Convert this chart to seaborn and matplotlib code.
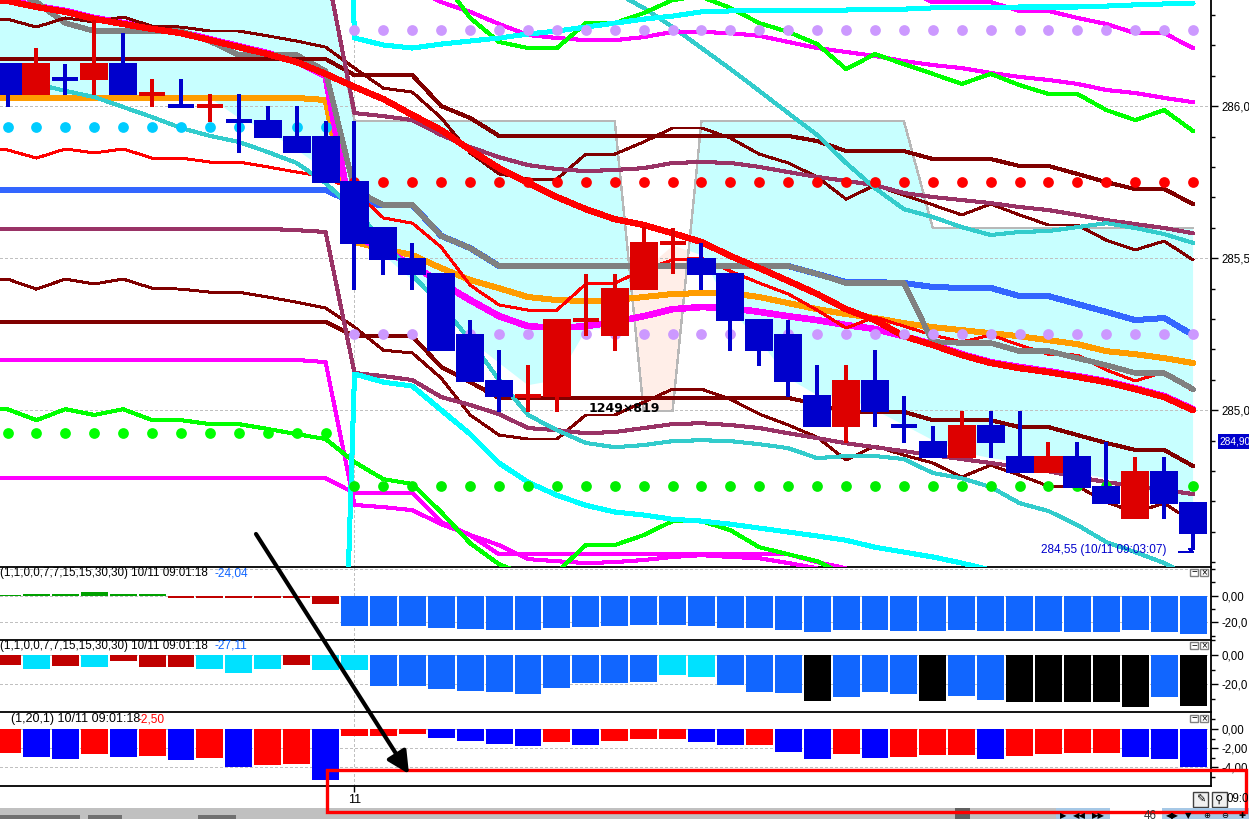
import numpy as np
import pandas as pd
import matplotlib
matplotlib.use("Agg")
import matplotlib.pyplot as plt
from matplotlib.patches import Rectangle
import seaborn as sns

nan = float("nan")

# candles
candle_up = [0,1,0,1,0,1,0,1,0,0,0,0,0,0,0,0,0,0,1,1,1,1,1,1,0,0,0,0,0,1,0,0,0,1,0,0,1,0,0,1,0,0]
opens = [286.141,286.036,286.089,286.086,286.141,286.039,286.0,286.0,285.951,285.954,285.901,285.901,285.753,285.602,285.5,285.451,285.25,285.099,285.046,285.043,285.296,285.243,285.395,285.549,285.5,285.451,285.299,285.25,285.049,284.944,285.099,284.947,284.898,284.842,284.951,284.849,284.793,284.849,284.75,284.641,284.799,284.697]
closes = [286.036,286.141,286.089,286.141,286.036,286.039,286.0,286.0,285.951,285.895,285.845,285.747,285.546,285.493,285.444,285.194,285.092,285.043,285.046,285.299,285.296,285.401,285.553,285.549,285.444,285.293,285.194,285.092,284.944,285.099,284.993,284.947,284.842,284.951,284.891,284.793,284.849,284.743,284.691,284.799,284.691,284.592]
highs = [286.141,286.191,286.138,286.283,286.240,286.089,286.089,286.039,286.039,286.0,286.0,285.951,285.951,285.602,285.549,285.451,285.296,285.197,285.148,285.299,285.447,285.447,285.602,285.599,285.549,285.451,285.299,285.296,285.148,285.148,285.197,285.046,284.947,284.997,284.997,284.997,284.895,284.895,284.895,284.845,284.845,284.697]
lows = [285.997,286.036,286.036,286.036,286.036,285.997,286.0,285.947,285.845,285.895,285.845,285.747,285.395,285.444,285.395,285.194,285.092,284.993,284.993,284.993,285.243,285.194,285.395,285.447,285.395,285.194,285.145,285.043,284.944,284.891,284.944,284.891,284.842,284.842,284.842,284.793,284.793,284.743,284.691,284.641,284.641,284.539]

# ichimoku cloud spans
cloud_top = [286.6]*11 + [286.474] + [285.951]*10 + [284.997]*2 + [285.951]*8 + [285.599]*10
cloud_bottom = [286.027]*8 + [285.961,285.918,285.856,285.790,285.707,285.510,285.428,285.346,285.230,285.155,285.082,285.099,285.263,285.270,285.461,285.543,285.510,285.329,285.230,285.105,285.049,285.043,285.000,284.951,284.901,284.862,284.842,284.829,284.809,284.793,284.776,284.744,284.720,284.671]

# overlay lines
red_ma = [286.346,286.326,286.310,286.287,286.270,286.254,286.240,286.217,286.194,286.171,286.145,286.106,286.063,286.023,285.971,285.921,285.856,285.796,285.747,285.701,285.661,285.628,285.609,285.582,285.553,285.507,285.467,285.425,285.382,285.332,285.296,285.243,285.214,285.181,285.155,285.138,285.125,285.109,285.092,285.069,285.043,285.000]
magenta_ma = [286.349,286.329,286.313,286.290,286.273,286.257,286.243,286.220,286.197,286.174,286.148,286.099,285.576,285.527,285.477,285.418,285.362,285.309,285.276,285.270,285.276,285.290,285.309,285.332,285.339,285.336,285.323,285.309,285.296,285.280,285.267,285.243,285.217,285.184,285.158,285.142,285.128,285.112,285.095,285.072,285.046,285.003]
orange_ma = [286.027]*11 + [286.020,285.553,285.530,285.510,285.467,285.428,285.401,285.372,285.362,285.359,285.362,285.372,285.382,285.385,285.385,285.372,285.352,285.332,285.316,285.303,285.286,285.273,285.263,285.253,285.243,285.230,285.217,285.194,285.184,285.171,285.155]
gray_line = [286.382,286.342,286.273] + [286.247]*4 + [286.214] + [286.168]*3 + [286.115,285.724,285.675,285.675,285.573,285.533] + [285.474]*11 + [285.448] + [285.418]*3 + [285.224,285.221,285.221,285.194,285.194,285.171,285.148,285.122,285.122,285.069]
blue_line = [285.724]*12 + [285.681,285.675,285.675,285.573,285.533] + [285.474]*11 + [285.448,285.421,285.421,285.418,285.405,285.402,285.402,285.375,285.375,285.349,285.323,285.296,285.303,285.247]
thin_red = [285.856,285.829,285.859,285.846,285.859,285.829,285.829,285.816,285.816,285.800,285.783,285.767,285.721,285.632,285.615,285.536,285.411,285.346,285.329,285.329,285.415,285.418,285.461,285.494,285.500,285.457,285.418,285.382,285.329,285.270,285.306,285.276,285.247,285.224,285.247,285.214,285.184,285.181,285.132,285.096,285.125,285.063]
upper_kijun = [286.155]*12 + [286.102]*3 + [286.000,285.961] + [285.902]*11 + [285.885] + [285.852]*3 + [285.826]*3 + [285.803]*2 + [285.777,285.750,285.727,285.727,285.678]
upper_thin = [286.286,286.260,286.290,286.277,286.293,286.263,286.260,286.247,286.247,286.231,286.214,286.194,286.125,286.059,286.046,285.961,285.846,285.777,285.760,285.760,285.842,285.842,285.882,285.928,285.928,285.895,285.842,285.813,285.767,285.694,285.740,285.707,285.675,285.642,285.678,285.642,285.609,285.609,285.559,285.527,285.556,285.494]
purple_upper = [nan]*11 + [286.467,285.977,285.967,285.954,285.905,285.865,285.832,285.806,285.793,285.786,285.790,285.796,285.813,285.816,285.813,285.800,285.783,285.767,285.754,285.740,285.714,285.701,285.691,285.681,285.668,285.658,285.642,285.625,285.612,285.599,285.582]
purple_lower = [285.596]*10 + [285.592,285.586,285.122,285.112,285.099,285.043,285.017,284.987,284.941,284.934,284.924,284.928,284.941,284.954,284.957,284.951,284.941,284.924,284.908,284.891,284.878,284.865,284.852,284.839,284.826,284.813,284.799,284.780,284.763,284.750,284.737,284.724]
teal_lower = [286.086,286.073,286.050,286.030,285.997,285.964,285.928,285.902,285.882,285.849,285.813,285.747,285.658,285.559,285.444,285.346,285.230,285.099,284.984,284.934,284.892,284.878,284.885,284.898,284.901,284.898,284.888,284.875,284.842,284.849,284.849,284.839,284.793,284.776,284.747,284.694,284.668,284.622,284.566,284.533,284.497,284.447]
teal_upper = [nan]*20 + [286.448,286.375,286.323,286.260,286.191,286.122,286.050,285.977,285.905,285.813,285.730,285.661,285.635,285.602,285.576,285.586,285.589,285.602,285.615,285.599,285.579,285.550]
cyan_upper = [nan]*11 + [289.310,286.224,286.201,286.191,286.204,286.214,286.224,286.237,286.247,286.260,286.273,286.286,286.296,286.310,286.313,286.316,286.316,286.316,286.316,286.319,286.319,286.323,286.323,286.323,286.326,286.326,286.326,286.329,286.333,286.336,286.339]
cyan_lower = [nan]*11 + [282.07,285.119,285.092,285.079,285.000,284.921,284.826,284.763,284.720,284.687,284.665,284.655,284.641,284.635,284.625,284.612,284.599,284.586,284.572,284.549,284.533,284.517,284.497,284.474] + [nan]*7
magenta_upper = [nan]*14 + [286.388,286.342,286.310,286.270,286.234,286.224,286.217,286.217,286.227,286.244,286.244,286.240,286.231,286.211,286.191,286.178,286.165,286.148,286.135,286.125,286.109,286.096,286.086,286.073,286.053,286.043,286.027,286.013]
magenta_top = [nan]*31 + [286.382,286.342,286.342,286.342,286.313,286.313,286.290,286.270,286.240,286.240,286.191]
green_upper = [nan]*14 + [286.546,286.421,286.290,286.211,286.191,286.191,286.273,286.273,286.306,286.349,286.359,286.323,286.273,286.244,286.204,286.122,286.171,286.138,286.106,286.073,286.106,286.069,286.040,286.040,285.987,285.954,285.987,285.918]
lower_kijun = [285.290]*12 + [285.243]*3 + [285.142,285.092] + [285.040]*11 + [285.020] + [284.994]*3 + [284.967]*3 + [284.944]*2 + [284.918,284.892,284.869,284.869,284.816]
lower_thin = [285.431,285.398,285.431,285.415,285.431,285.401,285.398,285.388,285.388,285.372,285.355,285.336,285.273,285.197,285.188,285.105,284.984,284.918,284.905,284.905,284.984,284.984,285.026,285.069,285.069,285.036,284.987,284.951,284.911,284.836,284.882,284.852,284.826,284.780,284.819,284.786,284.750,284.750,284.697,284.664,284.694,284.632]
magenta_curve = [285.165]*11 + [285.158,284.688,284.681,284.671,284.625,284.589,284.556,284.510,284.503,284.497,284.500,284.507,284.517,284.523,284.517,284.513,284.497,284.480] + [nan]*13
magenta_flat = [284.776]*12 + [284.727]*3 + [284.632,284.589] + [284.526]*11 + [284.500,284.480] + [nan]*12
green_lower = [285.003,284.967,285.003,284.984,285.003,284.967,284.967,284.954,284.954,284.938,284.921,284.905,284.829,284.773,284.757,284.664,284.562,284.493,284.457,284.467,284.556,284.556,284.589,284.635,284.635,284.605,284.549,284.526,284.503,284.457] + [nan]*12

# dotted levels
dots_left = {"#00ccff": 285.93, "#00ff00": 284.925}
dots_right = {"#cc99ff": [286.25, 285.25], "#ff0000": [285.75], "#00ee00": [284.75]}

# lower panels
panel1_vals = [0.5,1.5,1.5,3,1.5,1.5,-2,-2,-2,-2,-1.5,-6,-22.6,-22.6,-22.6,-24.2,-24.9,-25.7,-25.7,-24.2,-23.4,-22.6,-21.9,-21.9,-22.6,-24.2,-24.2,-25.7,-27.2,-25.7,-25.7,-26.4,-26.4,-25.7,-26.4,-26.4,-26.4,-27.2,-27.2,-25.7,-27.2,-28.7]
panel1_kind = list("ggggggrrrrrr") + list("b"*30)
panel2_vals = [-6.6,-9.5,-7.5,-8.2,-4.1,-8.2,-8.2,-9.5,-12.3,-9.5,-6.6,-10.2,-10.2,-21.1,-21.1,-23.2,-24.5,-25.2,-26.6,-22.5,-19.1,-19.1,-18.4,-13.6,-15,-20.5,-25.2,-25.9,-31.4,-28.6,-25.2,-26.6,-31.4,-28,-30.7,-32,-32,-32,-32,-35.5,-28.6,-34.8]
panel2_kind = list("rcrcrrrcccrcc") + list("bbbbbbbbbb") + list("cc") + list("bbb") + list("k") + list("bbb") + list("k") + list("bb") + list("kkkkk") + list("b") + list("k")
panel3_vals = [-2.5,-2.93,-3.14,-2.61,-2.93,-2.82,-3.24,-3.03,-3.97,-3.76,-3.66,-5.33,-0.73,-0.73,-0.52,-0.94,-1.25,-1.57,-1.78,-1.36,-1.67,-1.25,-1.05,-1.05,-1.36,-1.67,-1.67,-2.4,-3.14,-2.61,-3.03,-2.93,-2.72,-2.72,-3.14,-2.82,-2.61,-2.5,-2.5,-2.93,-3.14,-3.97]
panel3_kind = list("rbbrbrbrbrrbrrrbbbbrbrrrbbrbbrbrrrbrrrrbbb")

bars = np.arange(len(opens))
W, H = 1249, 819
XLIM = (-0.2594, 41.62)
FONT = ["Liberation Sans", "DejaVu Sans"]

sns.set_theme(style="white")
plt.rcParams["font.family"] = FONT
plt.rcParams["lines.antialiased"] = False


def panel(top, bottom, ylim):
    ax = fig.add_axes([0, 1 - bottom / H, 1211 / W, (bottom - top) / H])
    ax.set_xlim(XLIM)
    ax.set_ylim(ylim)
    ax.set_facecolor("white")
    ax.patch.set_alpha(0)
    for side in ["top", "left"]:
        ax.spines[side].set_visible(False)
    for side in ["right", "bottom"]:
        ax.spines[side].set_visible(True)
        ax.spines[side].set_color("black")
        ax.spines[side].set_linewidth(1.3)
    ax.yaxis.tick_right()
    ax.set_xticks([])
    return ax


def ticks(ax, major, labels, minor, size=8.3):
    ax.set_yticks(major)
    ax.set_yticklabels(labels, fontsize=size, color="black")
    ax.set_yticks(minor, minor=True)
    ax.tick_params(axis="y", which="major", length=5, width=1, color="black", pad=2.2, right=True)
    ax.tick_params(axis="y", which="minor", length=3, width=1, color="black", right=True)


def grid(ax, levels):
    for v in levels:
        ax.axhline(v, color="#c0c0c0", lw=1, ls=(0, (2, 2)), zorder=1.5)
    ax.axvline(12, color="#c0c0c0", lw=1, ls=(0, (2, 2)), zorder=1.5)


def line(ax, y, color, lw, z):
    # first value repeated so the line runs to the left edge
    xs = np.r_[-1, bars]
    ys = np.r_[y[0], y]
    sns.lineplot(x=xs, y=ys, color=color, linewidth=lw, zorder=z, estimator=None,
                 errorbar=None, sort=False, ax=ax)


def bar_panel(ax, vals, kinds, colors):
    df = pd.DataFrame({"bar": bars, "val": vals, "kind": kinds})
    sns.barplot(data=df, x="bar", y="val", hue="kind", palette=colors, dodge=False,
                native_scale=True, width=0.93, saturation=1, legend=False, linewidth=0,
                zorder=3, ax=ax)
    ax.set_xlabel("")
    ax.set_ylabel("")
    ax.set_xlim(XLIM)


fig = plt.figure(figsize=(W / 100, H / 100), dpi=100, facecolor="white")

# main price panel
ax = panel(0, 567, (284.484, 286.349))
grid(ax, [286.0, 285.5, 285.0])
ticks(ax, [286.0, 285.5, 285.0], ["286,0", "285,5", "285,0"],
      [286.3, 286.2, 286.1, 285.9, 285.8, 285.7, 285.6, 285.4, 285.3, 285.2, 285.1, 284.9, 284.8, 284.7, 284.6, 284.5])

top = np.r_[cloud_top[0], cloud_top]
bot = np.r_[cloud_bottom[0], cloud_bottom]
cx = np.r_[-1, bars]
ax.fill_between(cx, top, bot, where=top >= bot, interpolate=True, color="#c8ffff", lw=0, zorder=1)
ax.fill_between(cx, top, bot, where=top <= bot, interpolate=True, color="#ffeee8", lw=0, zorder=1)
ax.plot(bars[11:], cloud_top[11:], color="#b8b8b8", lw=1, zorder=2)

line(ax, blue_line, "#3366ff", 3.6, 3.0)
line(ax, orange_ma, "#ff9c00", 3.6, 3.05)
line(ax, magenta_ma, "#ff00ff", 4.0, 3.1)
line(ax, gray_line, "#808080", 3.2, 3.2)
line(ax, thin_red, "#ff0000", 1.4, 3.15)
for series, color, lw in [(upper_kijun, "#800000", 2.2), (lower_kijun, "#800000", 2.2),
                          (upper_thin, "#800000", 1.4), (lower_thin, "#800000", 1.4),
                          (purple_upper, "#993366", 2.2), (purple_lower, "#993366", 2.2),
                          (teal_lower, "#33cccc", 2.2), (teal_upper, "#33cccc", 2.2),
                          (magenta_upper, "#ff00ff", 2.2), (magenta_top, "#ff00ff", 2.2),
                          (magenta_curve, "#ff00ff", 2.2), (magenta_flat, "#ff00ff", 2.2),
                          (green_upper, "#00ff00", 2.2), (green_lower, "#00ff00", 2.2),
                          (cyan_upper, "#00ffff", 2.9), (cyan_lower, "#00ffff", 2.9)]:
    line(ax, series, color, lw, 3.3)
line(ax, red_ma, "#ff0000", 3.8, 3.5)

for color, level in dots_left.items():
    sns.scatterplot(x=bars[:12], y=[level] * 12, color=color, s=60, linewidth=0, zorder=4, ax=ax)
for color, levels in dots_right.items():
    for level in levels:
        sns.scatterplot(x=bars[12:], y=[level] * 30, color=color, s=60, linewidth=0, zorder=4, ax=ax)
ax.set_xlabel("")
ax.set_ylabel("")

col = ["#dd0000" if u else "#0000cc" for u in candle_up]
ax.vlines(bars, lows, highs, colors=col, lw=1.5, zorder=5, antialiased=False)
o, c = np.array(opens), np.array(closes)
solid = o != c
ax.bar(bars[solid], np.abs(o - c)[solid], bottom=np.minimum(o, c)[solid], width=0.97,
       color=np.array(col)[solid], linewidth=0, zorder=6, antialiased=False)
ax.hlines(o[~solid], bars[~solid] - 0.45, bars[~solid] + 0.45, colors=np.array(col)[~solid],
          lw=1.5, zorder=6, antialiased=False)
ax.set_xlim(XLIM)
ax.set_ylim(284.484, 286.349)

# indicator panels
ax1 = panel(567, 639.5, (-32.8, 21.5))
grid(ax1, [20, 0, -20])
bar_panel(ax1, panel1_vals, panel1_kind, {"g": "#00a000", "r": "#c00000", "b": "#1166ff"})
ax1.set_ylim(-32.8, 21.5)
ticks(ax1, [0, -20], ["0,00", "-20,0"], [20, 10, -10, -30])

ax2 = panel(639.5, 712, (-38.9, 10.6))
grid(ax2, [0, -20])
bar_panel(ax2, panel2_vals, panel2_kind, {"r": "#c00000", "c": "#00e1ff", "b": "#1166ff", "k": "#000000"})
ax2.set_ylim(-38.9, 10.6)
ticks(ax2, [0, -20], ["0,00", "-20,0"], [10, -10, -30])

ax3 = panel(712, 786, (-5.95, 1.77))
grid(ax3, [0, -2, -4])
bar_panel(ax3, panel3_vals, panel3_kind, {"r": "#ff0000", "b": "#0000ff"})
ax3.set_ylim(-5.95, 1.77)
ticks(ax3, [0, -2, -4], ["0,00", "-2,00", "-4,00"], [1, -1, -3, -5])
ax3.set_xticks([12])
ax3.set_xticklabels(["11"], fontsize=9, color="black")
ax3.tick_params(axis="x", length=4, width=1, color="black", pad=2, bottom=True)

# overlay in figure pixels: captions, window chrome, annotation
ov = fig.add_axes([0, 0, 1, 1], zorder=10)
ov.set_xlim(0, W)
ov.set_ylim(H, 0)
ov.axis("off")

for x, y, s, color, size in [(0, 573, "(1,1,0,0,7,7,15,15,30,30) 10/11 09:01:18", "black", 8.4),
                             (215, 573, "-24,04", "#1166ff", 8.6),
                             (0, 646, "(1,1,0,0,7,7,15,15,30,30) 10/11 09:01:18", "black", 8.4),
                             (215, 646, "-27,11", "#1166ff", 8.6),
                             (11, 719, "(1,20,1) 10/11 09:01:18", "black", 9),
                             (138, 719, "-2,50", "#ff0000", 8.6),
                             (1041, 550, "284,55 (10/11 09:03:07)", "#0000cc", 8.5)]:
    ov.text(x, y, s, color=color, fontsize=size, va="center", ha="left")
ov.text(624, 409, "1249×819", color="black", fontsize=9, va="center", ha="center",
        family="DejaVu Sans", fontweight="bold")
ov.plot([1179, 1193, 1189], [552, 552, 549], color="#0000cc", lw=1)
ov.add_patch(Rectangle((1218, 434), 31, 15, color="#0000cc", lw=0))
ov.text(1219, 442, "284,90", color="white", fontsize=7.3, va="center", ha="left")

for y in [569, 642, 715]:
    for x, s in [(1190, "−"), (1200, "×")]:
        ov.add_patch(Rectangle((x, y), 8, 7, fc="white", ec="#808080", lw=1))
        ov.text(x + 4, y + 3.5, s, fontsize=7, ha="center", va="center", color="black")

for x, s in [(1193, "✎"), (1212, "⚲")]:
    ov.add_patch(Rectangle((x, 792), 15, 15, fc="#f0f0f0", ec="#404040", lw=1))
    ov.text(x + 7.5, 799.5, s, fontsize=8, ha="center", va="center", color="black", family="DejaVu Sans")
ov.text(1227, 799, "09:0", fontsize=8.3, va="center", ha="left", color="black")

ov.add_patch(Rectangle((0, 808), W, 11, color="#c0c0c0", lw=0))
for x0, w in [(0, 80), (88, 34), (110, 0), (198, 38)]:
    if w:
        ov.add_patch(Rectangle((x0, 815), w, 4, color="#707070", lw=0))
ov.add_patch(Rectangle((955, 808), 15, 11, color="#606060", lw=0))
ov.add_patch(Rectangle((1056, 808), 54, 11, color="#a6c8e6", lw=0))
ov.add_patch(Rectangle((1110, 808), 52, 11, color="white", lw=0))
ov.add_patch(Rectangle((1162, 808), 87, 11, color="#a6c8e6", lw=0))
ov.text(1150, 816, "46", fontsize=8.3, ha="center", va="center", color="#333333")
for x, s in [(1063, "▶"), (1079, "◀◀"), (1098, "▶▶"), (1172, "◀▶"), (1188, "▼"), (1207, "⊕"), (1225, "⊖"), (1242, "✚")]:
    ov.text(x, 816, s, fontsize=6, ha="center", va="center", color="black", family="DejaVu Sans")

ov.annotate("", xy=(409, 774), xytext=(256, 534),
            arrowprops=dict(arrowstyle="-|>,head_length=1.1,head_width=0.55", color="black", lw=3,
                            shrinkA=0, shrinkB=0))
ov.add_patch(Rectangle((327, 770), 919, 41.5, fc="none", ec="#ff0000", lw=2.4))

fig.savefig("out.png", dpi=100)
